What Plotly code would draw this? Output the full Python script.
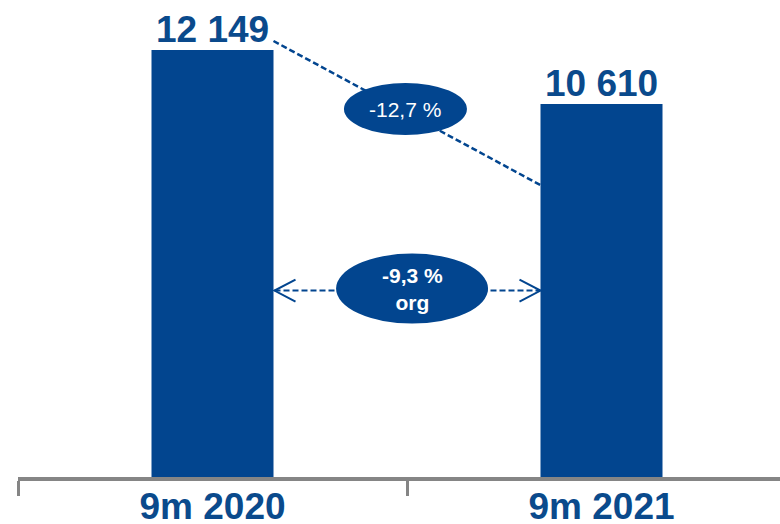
import plotly.graph_objects as go

# ---- data ----
categories = ["9m 2020", "9m 2021"]
values = [12149, 10610]
value_labels = ["12 149", "10 610"]
change_label = "-12,7 %"
organic_label = "-9,3 %<br>org"

# ---- style ----
BLUE = "#02458F"
TEXT_BLUE = "#0A4A8C"
GREY = "#858585"
FONT = "Liberation Sans, Arial, sans-serif"

W, H = 780, 524
ML = 18
plot_h = 477
MB = H - plot_h
bar_width = 122 / 389
y_top = values[0] * plot_h / 427.0
x_range = [-0.5, -0.5 + (W - ML) / 389.0]

fig = go.Figure()
fig.add_trace(go.Bar(
    x=categories, y=values, width=bar_width,
    marker=dict(color=BLUE, line=dict(width=0)),
    hoverinfo="skip",
))

# value labels above bars
for c, v, t in zip(categories, values, value_labels):
    fig.add_annotation(x=c, y=v, text=t, showarrow=False, yanchor="bottom",
                       xanchor="center", yshift=-2,
                       font=dict(family=FONT, size=37, color=TEXT_BLUE, weight="bold"))

# helper conversions (pixel offsets to data units)
px_y = y_top / plot_h
px_x = 1 / 389.0
right0 = 0 + bar_width / 2
left1 = 1 - bar_width / 2

# dashed connector from first label to second bar
y_start = values[0] + 9 * px_y
y_end = values[1] - 81 * px_y
fig.add_shape(type="line", xref="x", yref="y", x0=right0, y0=y_start, x1=left1, y1=y_end,
              line=dict(color=BLUE, width=2.5, dash="6px,3px"), layer="above")

# horizontal double arrow
y_arr = values[1] / 2
fig.add_shape(type="line", xref="x", yref="y", x0=right0 + 1 * px_x, y0=y_arr, x1=left1, y1=y_arr,
              line=dict(color=BLUE, width=2, dash="6px,3px"), layer="above")
aw, ah = 21 * px_x, 11 * px_y
xl = right0 + 1 * px_x
fig.add_shape(type="path", xref="x", yref="y",
              path=f"M {xl+aw},{y_arr+ah} L {xl},{y_arr} L {xl+aw},{y_arr-ah}",
              line=dict(color=BLUE, width=2), layer="above")
xr = left1
fig.add_shape(type="path", xref="x", yref="y",
              path=f"M {xr-aw},{y_arr+ah} L {xr},{y_arr} L {xr-aw},{y_arr-ah}",
              line=dict(color=BLUE, width=2), layer="above")

# ellipses
cx1, cy1 = 0.496, values[0] - 59 * px_y
fig.add_shape(type="circle", xref="x", yref="y",
              x0=cx1 - 61.5 * px_x, x1=cx1 + 61.5 * px_x, y0=cy1 - 26 * px_y, y1=cy1 + 26 * px_y,
              fillcolor=BLUE, line=dict(width=0), layer="above")
fig.add_annotation(x=cx1, y=cy1, text=change_label, showarrow=False,
                   font=dict(family=FONT, size=21, color="white"))
cx2, cy2 = 0.513, y_arr + 2 * px_y
fig.add_shape(type="circle", xref="x", yref="y",
              x0=cx2 - 76 * px_x, x1=cx2 + 76 * px_x, y0=cy2 - 35 * px_y, y1=cy2 + 35 * px_y,
              fillcolor=BLUE, line=dict(width=0), layer="above")
fig.add_annotation(x=cx2, y=cy2, text=organic_label, showarrow=False,
                   font=dict(family=FONT, size=21, color="white", weight="bold"))

fig.update_layout(
    template="none",
    width=W, height=H,
    margin=dict(l=ML, r=0, t=0, b=MB, pad=0, autoexpand=False),
    plot_bgcolor="white", paper_bgcolor="white",
    showlegend=False,
    xaxis=dict(type="category", range=x_range, showline=True, linecolor=GREY, linewidth=3.5,
               ticks="outside", ticklen=15, tickwidth=2.5, tickcolor=GREY, tickson="boundaries",
               showgrid=False, zeroline=False, ticklabelstandoff=-6, automargin=False,
               tickfont=dict(family=FONT, size=37, color=TEXT_BLUE, weight="bold")),
    yaxis=dict(range=[0, y_top], visible=False, showgrid=False, zeroline=False, automargin=False),
)

fig.write_html(
    "out.html",
    config={"displayModeBar": False},
    post_script="document.body.style.margin='0';document.documentElement.style.overflow='hidden';",
)
